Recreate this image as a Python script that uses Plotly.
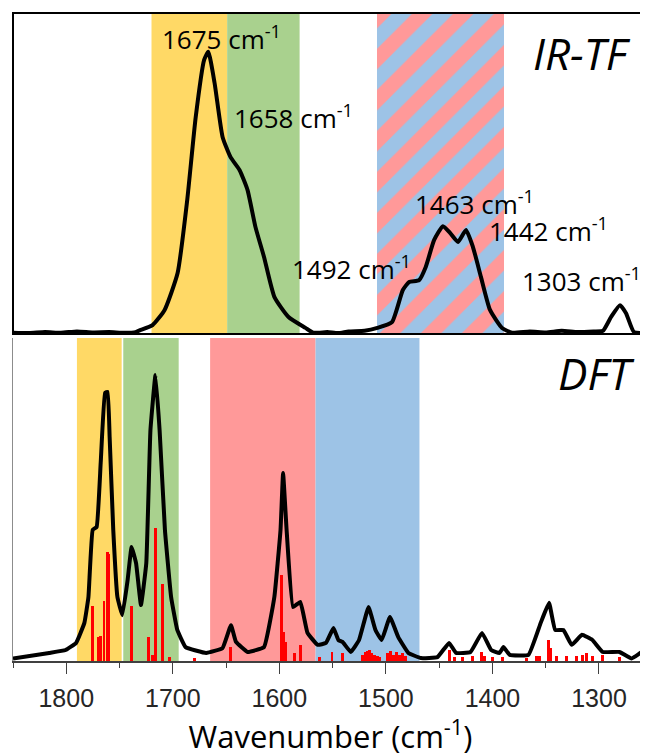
import plotly.graph_objects as go

# ── IR-TF experimental spectrum (top panel) ───────────────────────────────────
ir_wn = [1850, 1835, 1820, 1805, 1790, 1775, 1760, 1745, 1735, 1730.7, 1719, 1707.7,
         1695.5, 1686.5, 1678.5, 1670.6, 1666.7, 1660.8, 1653.3, 1645.8, 1637.4,
         1629.9, 1622.4, 1614.4, 1604.6, 1591.4, 1575.5, 1568, 1555, 1545, 1535,
         1520, 1508, 1494.3, 1484.1, 1478.2, 1468.8, 1462.6, 1454.7, 1446.4, 1439.8,
         1432.3, 1424.8, 1418.3, 1410.8, 1402.3, 1391, 1381.6, 1365, 1350, 1335,
         1320, 1305, 1296.3, 1288.7, 1280.3, 1274.6, 1267.1, 1254]
ir_int = [0.004, 0.003, 0.006, 0.004, 0.008, 0.005, 0.006, 0.004, 0.006, 0.012, 0.028,
          0.075, 0.19, 0.417, 0.676, 0.854, 0.879, 0.782, 0.614, 0.551, 0.511, 0.449,
          0.333, 0.24, 0.115, 0.053, 0.019, 0.004, 0.006, 0.003, 0.008, 0.01, 0.019,
          0.037, 0.137, 0.162, 0.168, 0.209, 0.293, 0.336, 0.315, 0.287, 0.324, 0.271,
          0.178, 0.075, 0.019, 0.004, 0.008, 0.005, 0.01, 0.006, 0.008, 0.01, 0.053,
          0.09, 0.065, 0.006, 0.004]

# ── DFT broadened spectrum (bottom panel) ─────────────────────────────────────
dft_wn = [1850, 1816, 1800.6, 1790.8, 1783, 1779.2, 1775.2, 1771.5, 1767.7, 1763.6,
          1761.2, 1759.3, 1755.9, 1752, 1747.4, 1742.4, 1738.7, 1734.5, 1729.9,
          1724.9, 1721, 1716.3, 1712.4, 1707.4, 1701.6, 1695.8, 1688, 1668.7, 1653.3,
          1645.4, 1640.7, 1629.8, 1614.4, 1604.7, 1598.9, 1596.5, 1593.2, 1587.2,
          1580.3, 1573.6, 1564, 1556.3, 1549.2, 1544.6, 1540.7, 1533, 1525.2, 1516.3,
          1509.8, 1504, 1496.2, 1488.4, 1478.9, 1467.1, 1451.6, 1440.7, 1434.1,
          1420.6, 1409.8, 1401.2, 1393.4, 1389.7, 1383.8, 1366.2, 1354.7, 1346.9,
          1341.1, 1333.4, 1325.6, 1316, 1306.2, 1296.5, 1280.8, 1269.4, 1259.6, 1254]
dft_int = [0.008, 0.025, 0.034, 0.056, 0.118, 0.198, 0.406, 0.415, 0.613, 0.83, 0.833,
           0.693, 0.406, 0.198, 0.142, 0.251, 0.353, 0.303, 0.173, 0.303, 0.715, 0.885,
           0.715, 0.406, 0.198, 0.096, 0.043, 0.025, 0.04, 0.111, 0.059, 0.028, 0.043,
           0.198, 0.406, 0.582, 0.406, 0.167, 0.183, 0.087, 0.05, 0.056, 0.102, 0.065,
           0.059, 0.028, 0.065, 0.167, 0.096, 0.065, 0.136, 0.074, 0.025, 0.009, 0.012,
           0.056, 0.025, 0.028, 0.087, 0.034, 0.025, 0.043, 0.019, 0.019, 0.118, 0.18,
           0.096, 0.096, 0.05, 0.081, 0.065, 0.028, 0.028, 0.008, 0.028, 0.03]

# DFT stick spectrum (red bars)
stick_wn = [1775, 1769.3, 1768, 1764.6, 1761.4, 1760, 1738.9, 1722.4, 1719.2, 1716.1,
            1709.9, 1703, 1679.6, 1646.1, 1598.1, 1595.8, 1593.8, 1586, 1580, 1562.5,
            1550.6, 1540.7, 1522, 1519.4, 1517.5, 1515.6, 1513.8, 1511, 1508.1, 1506.2,
            1498.6, 1495.8, 1493, 1490.2, 1487.4, 1484.5, 1481.7, 1440.4, 1435.7,
            1428.2, 1418.8, 1410.3, 1407.5, 1400, 1390.6, 1368.1, 1358.7, 1355.9,
            1347.1, 1345.6, 1340, 1330.4, 1321.1, 1315.4, 1311.7, 1306.1, 1296.7,
            1280.8, 1259.2]
stick_int = [0.17, 0.075, 0.077, 0.187, 0.338, 0.33, 0.17, 0.075, 0.019, 0.412, 0.24,
             0.013, 0.01, 0.042, 0.266, 0.09, 0.06, 0.025, 0.05, 0.013, 0.029, 0.026,
             0.02, 0.028, 0.03, 0.035, 0.025, 0.02, 0.015, 0.012, 0.025, 0.03, 0.02,
             0.028, 0.02, 0.025, 0.015, 0.034, 0.013, 0.012, 0.015, 0.029, 0.015, 0.013,
             0.013, 0.01, 0.015, 0.015, 0.065, 0.04, 0.015, 0.015, 0.015, 0.02, 0.025,
             0.015, 0.02, 0.013, 0.013]

# ── Assignment bands (wavenumber ranges) ──────────────────────────────────────
top_bands = [(1720, 1649, "#FFD966"), (1649, 1581, "#A9D18E")]
striped_band = (1508, 1389)
bottom_bands = [(1790, 1748, "#FFD966"), (1746.5, 1694.5, "#A9D18E"),
                (1665, 1566, "#FF9999"), (1566, 1468.5, "#9DC3E6")]

# peak labels (text, paper x, paper y)
peak_labels = [("1675", 0.329, 0.962), ("1658", 0.442, 0.840), ("1492", 0.533, 0.607),
               ("1463", 0.726, 0.707), ("1442", 0.844, 0.665), ("1303", 0.895, 0.588)]

RED = "#FF9999"
BLUE = "#9DC3E6"

fig = go.Figure()

# striped red/blue band in the top panel
fig.add_trace(go.Bar(
    x=[(striped_band[0] + striped_band[1]) / 2], y=[1],
    width=[striped_band[0] - striped_band[1]],
    marker=dict(color=BLUE, line_width=0, opacity=1,
                pattern=dict(shape="/", fgcolor=RED, bgcolor=BLUE, fgopacity=1,
                             size=29, solidity=0.5)),
    xaxis="x", yaxis="y2", hoverinfo="skip", showlegend=False,
))

fig.add_trace(go.Scatter(
    x=ir_wn, y=ir_int, mode="lines", xaxis="x", yaxis="y2",
    line=dict(color="black", width=4, shape="spline", smoothing=0.5),
    showlegend=False,
))

fig.add_trace(go.Bar(
    x=stick_wn, y=stick_int, width=2.8, marker=dict(color="#FF0000", line_width=0, opacity=1),
    xaxis="x", yaxis="y", showlegend=False,
))

fig.add_trace(go.Scatter(
    x=dft_wn, y=dft_int, mode="lines", xaxis="x", yaxis="y",
    line=dict(color="black", width=4, shape="spline", smoothing=0.3),
    showlegend=False,
))

shapes = []
for x0, x1, col in top_bands:
    shapes.append(dict(type="rect", xref="x", yref="y2 domain", x0=x0, x1=x1, y0=0, y1=1,
                       fillcolor=col, line_width=0, layer="below"))
for x0, x1, col in bottom_bands:
    shapes.append(dict(type="rect", xref="x", yref="y domain", x0=x0, x1=x1, y0=0, y1=1,
                       fillcolor=col, line_width=0, layer="below"))
# box around the top panel
shapes.append(dict(type="rect", xref="x domain", yref="y2 domain", x0=0, x1=1, y0=0, y1=1,
                   line=dict(color="black", width=2), layer="above"))

annotations = []
for num, xp, yp in peak_labels:
    annotations.append(dict(text=f"{num} cm<sup>-1</sup>", xref="paper", yref="paper",
                            x=xp, y=yp, xanchor="center", yanchor="middle", showarrow=False,
                            font=dict(family="Open Sans", size=26, color="black")))
annotations.append(dict(text="<i>IR-TF</i>", xref="paper", yref="paper", x=0.896, y=0.938,
                        xanchor="center", yanchor="middle", showarrow=False,
                        font=dict(family="Open Sans", size=44, color="black")))
annotations.append(dict(text="<i>DFT</i>", xref="paper", yref="paper", x=0.918, y=0.445,
                        xanchor="center", yanchor="middle", showarrow=False,
                        font=dict(family="Open Sans", size=44, color="black")))

# page body has an 8px margin, so the margins below are offset to compensate
fig.update_layout(
    width=648, height=756,
    margin=dict(l=5, r=8, t=5, b=103, autoexpand=False),
    paper_bgcolor="white", plot_bgcolor="white",
    barmode="overlay", bargap=0,
    shapes=shapes, annotations=annotations,
    xaxis=dict(
        range=[1850, 1254], anchor="y", domain=[0, 1], automargin=False,
        showgrid=False, zeroline=False,
        showline=True, linecolor="#404040", linewidth=1.5,
        ticks="outside", ticklen=11, tickwidth=1.2, tickcolor="#404040",
        tick0=1800, dtick=100, ticklabelstandoff=3,
        minor=dict(ticks="outside", ticklen=5, tickwidth=1.2, tickcolor="#404040", dtick=50, tick0=1800),
        tickfont=dict(family="Liberation Sans", size=25, color="#262626"),
        title=dict(text="Wavenumber (cm<sup>-1</sup>)", standoff=6,
                   font=dict(family="Open Sans", size=31, color="black")),
    ),
    yaxis=dict(
        domain=[0, 0.4985], range=[0, 1], anchor="x", automargin=False,
        showgrid=False, zeroline=False, showticklabels=False,
        showline=True, linecolor="#8c8c8c", linewidth=1,
    ),
    yaxis2=dict(
        domain=[0.5046, 1], range=[0, 1], anchor="x", automargin=False,
        showgrid=False, zeroline=False, showticklabels=False,
    ),
)

fig.write_html("out.html")
